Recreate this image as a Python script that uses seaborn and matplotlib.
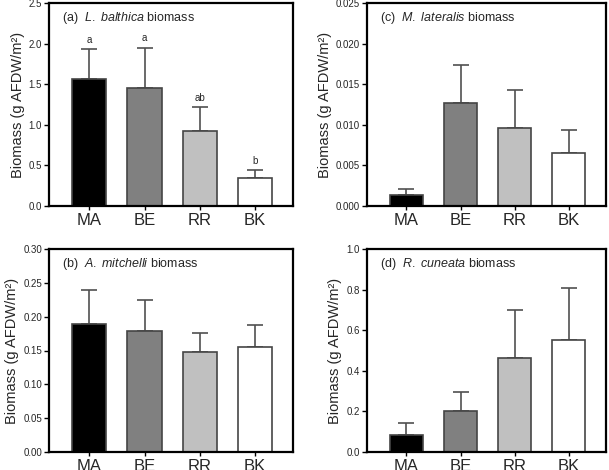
import numpy as np
import pandas as pd
import matplotlib
matplotlib.use("Agg")
import matplotlib.pyplot as plt
import seaborn as sns

sns.set_theme(style="ticks")
plt.rcParams['font.family'] = ['Liberation Sans', 'DejaVu Sans']
plt.rcParams['mathtext.fontset'] = 'custom'
plt.rcParams['mathtext.rm'] = 'Liberation Sans'
plt.rcParams['mathtext.it'] = 'Liberation Sans:italic'

# datos
sitios = ["MA", "BE", "RR", "BK"]
colores = ["#000000", "#808080", "#c0c0c0", "#ffffff"]

balthica_media = [1.57, 1.45, 0.92, 0.35]
balthica_sup = [1.93, 1.95, 1.22, 0.44]
balthica_letras = ["a", "a", "ab", "b"]

lateralis_media = [0.0014, 0.0127, 0.0096, 0.0065]
lateralis_sup = [0.0021, 0.0174, 0.0143, 0.0093]

mitchelli_media = [0.189, 0.179, 0.148, 0.155]
mitchelli_sup = [0.240, 0.225, 0.176, 0.188]

cuneata_media = [0.085, 0.203, 0.462, 0.553]
cuneata_sup = [0.143, 0.297, 0.700, 0.808]

paneles = [
    # (rect en px: left, top, right, bottom), titulo, medias, superior, ylim, yticks, formato, letras
    ((49, 3, 293, 206), r"(a)  $\it{L.\ balthica}$ biomass", balthica_media, balthica_sup,
     2.5, np.arange(0, 2.51, 0.5), "{:.1f}", balthica_letras),
    ((367, 3, 606, 206), r"(c)  $\it{M.\ lateralis}$ biomass", lateralis_media, lateralis_sup,
     0.025, np.arange(0, 0.0251, 0.005), "{:.3f}", None),
    ((49, 249, 293, 452), r"(b)  $\it{A.\ mitchelli}$ biomass", mitchelli_media, mitchelli_sup,
     0.30, np.arange(0, 0.301, 0.05), "{:.2f}", None),
    ((367, 249, 606, 452), r"(d)  $\it{R.\ cuneata}$ biomass", cuneata_media, cuneata_sup,
     1.0, np.arange(0, 1.01, 0.2), "{:.1f}", None),
]

W, H = 609, 470
fig = plt.figure(figsize=(W / 100, H / 100), dpi=100)

for (l, t, r, b), titulo, media, sup, ymax, yt, fmt, letras in paneles:
    ax = fig.add_axes([l / W, (H - b) / H, (r - l) / W, (b - t) / H])
    df = pd.DataFrame({"sitio": sitios, "media": media})
    err = np.array(sup) - np.array(media)
    ax.errorbar(np.arange(4), media, yerr=[np.zeros(4), err], fmt="none",
                ecolor="#505050", elinewidth=1.2, capsize=5.5, capthick=1.2, zorder=1)
    sns.barplot(data=df, x="sitio", y="media", hue="sitio", palette=colores,
                width=0.62, edgecolor="#454545", linewidth=1.2, legend=False,
                ax=ax, zorder=2)
    if letras is not None:
        for i, let in enumerate(letras):
            ax.annotate(let, (i, sup[i]), xytext=(0, 3), textcoords="offset points",
                        ha="center", va="bottom", fontsize=7)
    ax.set_xlim(-0.73, 3.69)
    ax.set_ylim(0, ymax)
    ax.set_yticks(yt)
    ax.set_yticklabels([fmt.format(v) for v in yt], fontsize=7)
    ax.tick_params(axis="x", labelsize=12, length=3, width=1, pad=2, color="black")
    ax.tick_params(axis="y", length=3.5, width=1, pad=1.5, color="black")
    ax.set_xlabel("")
    ax.set_ylabel("Biomass (g AFDW/m²)", fontsize=10.5, labelpad=3)
    for sp in ax.spines.values():
        sp.set_linewidth(1.6)
        sp.set_color("black")
    ax.text(0.055, 0.925, titulo, transform=ax.transAxes, fontsize=9,
            ha="left", va="center")

fig.savefig("out.png", dpi=100)
